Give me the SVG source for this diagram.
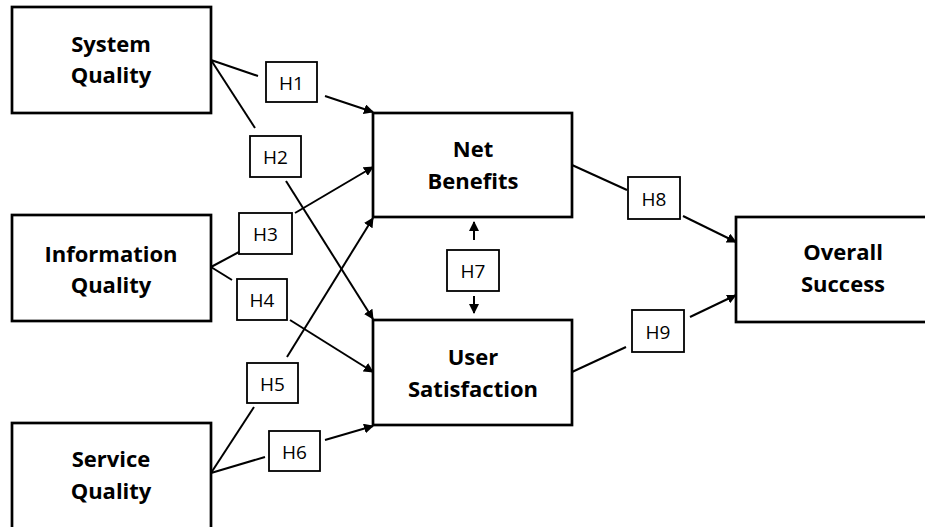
<svg xmlns="http://www.w3.org/2000/svg" width="925" height="527" viewBox="0 0 925 527">
<defs>
<style>
.box{fill:#fff;stroke:#000;stroke-width:2.7}
.lbl{fill:#fff;stroke:#000;stroke-width:1.8}
.t{font-family:"Open Sans","Liberation Sans",sans-serif;font-weight:bold;font-size:22px;fill:#000;text-anchor:middle}
.h{font-family:"Open Sans","Liberation Sans",sans-serif;font-size:19px;fill:#000;text-anchor:middle}
.c{stroke:#000;stroke-width:2;fill:none}
.a{stroke:#000;stroke-width:2;fill:none;marker-end:url(#ah)}
</style>
<marker id="ah" viewBox="0 0 10 10" refX="9" refY="5" markerWidth="5" markerHeight="5" orient="auto" markerUnits="strokeWidth">
<path d="M0,0 L10,5 L0,10 z" fill="#000"/>
</marker>
</defs>
<rect width="925" height="527" fill="#fff"/>
<g id="connectors">
<line class="c" x1="211" y1="60" x2="258" y2="76"/>
<line class="a" x1="325" y1="96" x2="373" y2="112"/>
<line class="c" x1="211" y1="60" x2="255" y2="128"/>
<line class="a" x1="286" y1="181" x2="373" y2="319"/>
<line class="c" x1="211" y1="267" x2="239" y2="252"/>
<line class="a" x1="295" y1="213" x2="373" y2="167"/>
<line class="c" x1="211" y1="267" x2="232" y2="280"/>
<line class="a" x1="290" y1="320" x2="373" y2="372"/>
<line class="c" x1="211" y1="473" x2="254" y2="407"/>
<line class="a" x1="287" y1="357" x2="373" y2="218"/>
<line class="c" x1="211" y1="473" x2="265" y2="457"/>
<line class="a" x1="325" y1="440" x2="373" y2="426"/>
<line class="a" x1="474" y1="240" x2="474" y2="222"/>
<line class="a" x1="474" y1="296" x2="474" y2="313"/>
<line class="c" x1="572" y1="165" x2="627" y2="190"/>
<line class="a" x1="683" y1="216" x2="736" y2="242"/>
<line class="c" x1="572" y1="372" x2="626" y2="347"/>
<line class="a" x1="690" y1="317" x2="736" y2="295"/>
</g>
<g id="system-quality"><rect class="box" x="12" y="7" width="199" height="106"/><text class="t" x="111" y="52">System</text><text class="t" x="111" y="83">Quality</text></g>
<g id="information-quality"><rect class="box" x="12" y="215" width="199" height="106"/><text class="t" x="111" y="262">Information</text><text class="t" x="111" y="293">Quality</text></g>
<g id="service-quality"><rect class="box" x="12" y="423" width="199" height="110"/><text class="t" x="111" y="467">Service</text><text class="t" x="111" y="499">Quality</text></g>
<g id="net-benefits"><rect class="box" x="373" y="113" width="199" height="104"/><text class="t" x="473" y="157">Net</text><text class="t" x="473" y="189">Benefits</text></g>
<g id="user-satisfaction"><rect class="box" x="373" y="320" width="199" height="105"/><text class="t" x="473" y="365">User</text><text class="t" x="473" y="397">Satisfaction</text></g>
<g id="overall-success"><rect class="box" x="736" y="217" width="214" height="105"/><text class="t" x="843" y="260">Overall</text><text class="t" x="843" y="292">Success</text></g>
<g id="h1"><rect class="lbl" x="266" y="62" width="51" height="40"/><text class="h" x="291.5" y="89.5">H1</text></g>
<g id="h2"><rect class="lbl" x="250" y="136" width="51" height="41"/><text class="h" x="275.5" y="164">H2</text></g>
<g id="h3"><rect class="lbl" x="239" y="213" width="53" height="41"/><text class="h" x="265.5" y="241">H3</text></g>
<g id="h4"><rect class="lbl" x="237" y="279" width="50" height="41"/><text class="h" x="262" y="307">H4</text></g>
<g id="h5"><rect class="lbl" x="247" y="363" width="51" height="40"/><text class="h" x="272.5" y="390.5">H5</text></g>
<g id="h6"><rect class="lbl" x="269" y="431" width="51" height="40"/><text class="h" x="294.5" y="458.5">H6</text></g>
<g id="h7"><rect class="lbl" x="447" y="250" width="52" height="41"/><text class="h" x="473" y="278">H7</text></g>
<g id="h8"><rect class="lbl" x="628" y="177" width="52" height="42"/><text class="h" x="654" y="205.5">H8</text></g>
<g id="h9"><rect class="lbl" x="632" y="310" width="52" height="42"/><text class="h" x="658" y="338.5">H9</text></g>
</svg>
